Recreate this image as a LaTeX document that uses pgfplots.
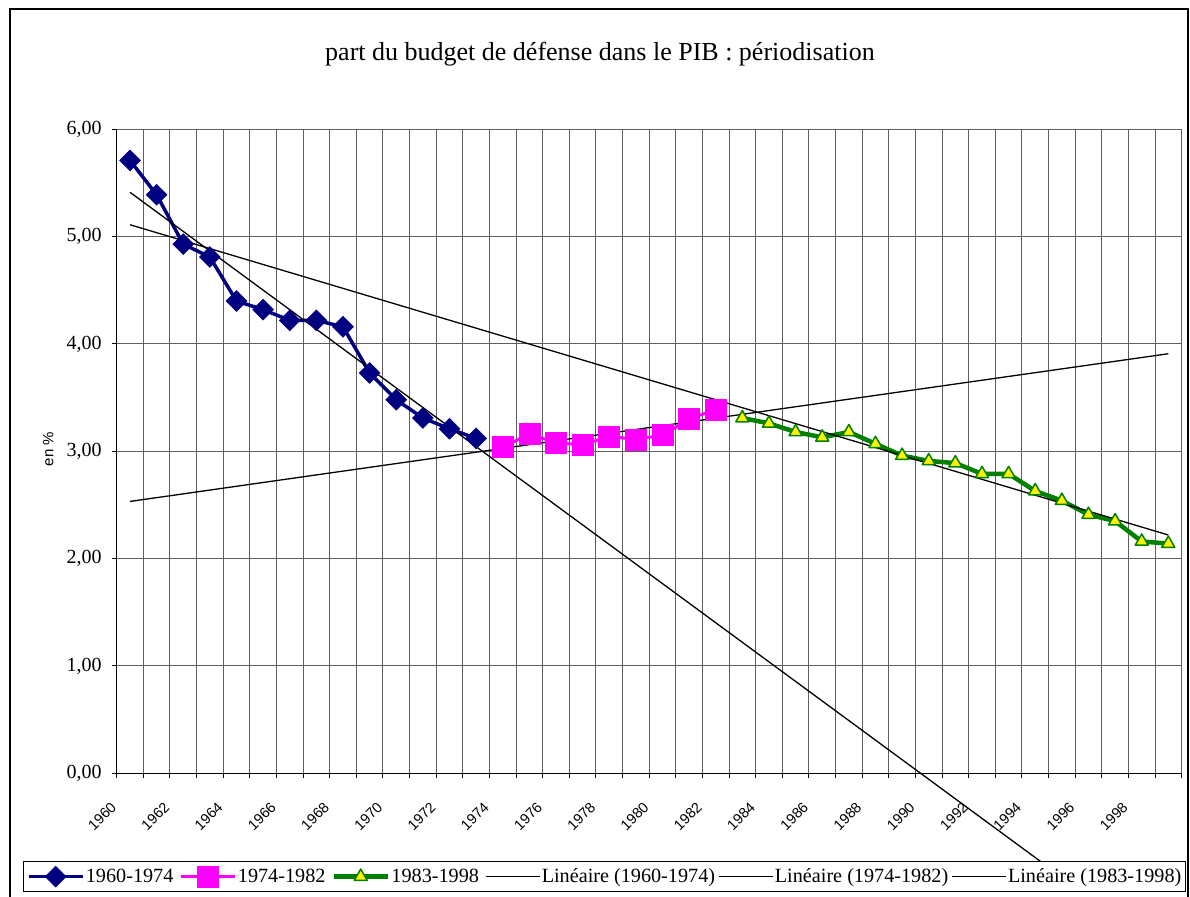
\documentclass[border=0pt]{standalone}
\usepackage{fontspec}
\setmainfont{Liberation Serif}
\setsansfont{Liberation Sans}
\usepackage{pgfplots}
\pgfplotsset{compat=1.18}
\pgfplotsset{layers/mylayers/.define layer set={axis background,axis grid,axis ticks,axis lines,pre main,main,axis tick labels,axis descriptions,axis foreground}{}}
\definecolor{navyb}{RGB}{0,0,128}
\definecolor{magb}{RGB}{255,0,255}
\definecolor{greenb}{RGB}{0,128,0}
\definecolor{gridg}{RGB}{95,95,95}
\begin{document}
\begin{tikzpicture}
\begin{axis}[
  set layers=mylayers,
  at={(116.7pt,122.7pt)}, anchor=south west,
  width=1065pt, height=644pt, scale only axis,
  xmin=-0.5, xmax=39.5, ymin=0, ymax=6,
  clip=false,
  axis x line*=bottom, axis y line*=left,
  axis line style={-, black, line width=1.5pt},
  xtick={-0.5,0.5,...,39.5},
  xticklabels={1960,,1962,,1964,,1966,,1968,,1970,,1972,,1974,,1976,,1978,,1980,,1982,,1984,,1986,,1988,,1990,,1992,,1994,,1996,,1998,},
  xmajorgrids=true, ymajorgrids=true,
  ytick={0,1,2,3,4,5,6},
  yticklabels={{0,00},{1,00},{2,00},{3,00},{4,00},{5,00},{6,00}},
  tick align=outside,
  major tick length=5pt,
  every tick/.append style={black, line width=1pt},
  major grid style={gridg, line width=1pt},
  yticklabel style={font=\fontsize{20}{24}\selectfont, anchor=east, inner sep=0pt, xshift=-10pt},
  xticklabel style={xshift=-2.4pt, yshift=-25.7pt, rotate=45, anchor=east, inner sep=1pt, fill=white, font=\sffamily\fontsize{14.5}{16}\selectfont},
  ylabel={en \%},
  every axis y label/.style={at={(axis description cs:-0.0642,0.5036)}, rotate=90, anchor=center, font=\sffamily\fontsize{15}{17}\selectfont},
  title={part du budget de défense dans le PIB : périodisation},
  title style={at={(axis description cs:0.4538,1.0968)}, anchor=base, font=\fontsize{26}{30}\selectfont},
  legend columns=6,
  legend image code/.code={\draw[mark repeat=2,mark phase=2] plot coordinates {(0pt,0pt) (27pt,0pt) (54pt,0pt)};},
  legend style={at={(axis description cs:-0.0877,-0.1362)}, anchor=north west, draw=black, line width=1.2pt, fill=white,
    font=\fontsize{20.2}{23}\selectfont, inner xsep=3pt, inner ysep=4.5pt,
    nodes={inner sep=1.5pt},
    /tikz/column 2/.style={column sep=4.5pt},
    /tikz/column 4/.style={column sep=4.5pt},
    /tikz/column 6/.style={column sep=4.5pt},
    /tikz/column 8/.style={column sep=1.5pt},
    /tikz/column 10/.style={column sep=1.5pt}},
]
\addplot[color=navyb, line width=3.5pt, mark=square*, mark size=7.4pt, mark options={rotate=45, fill=navyb, line width=0.5pt}] coordinates {
(0,5.71) (1,5.39) (2,4.93) (3,4.81) (4,4.40) (5,4.32) (6,4.22) (7,4.22) (8,4.16) (9,3.73) (10,3.48) (11,3.31) (12,3.21) (13,3.12)};
\addlegendentry{1960-1974}
\addplot[color=magb, line width=3pt, mark=square*, mark size=10.5pt, mark options={fill=magb, line width=0.5pt}] coordinates {
(14,3.04) (15,3.16) (16,3.08) (17,3.06) (18,3.14) (19,3.11) (20,3.15) (21,3.30) (22,3.39)};
\addlegendentry{1974-1982}
\addplot[color=greenb, line width=4.5pt, mark=triangle*, mark size=7.5pt, mark options={fill=yellow, draw=greenb, line width=1.5pt, line join=round}] coordinates {
(23,3.31) (24,3.26) (25,3.18) (26,3.13) (27,3.18) (28,3.07) (29,2.96) (30,2.91) (31,2.89) (32,2.79) (33,2.79) (34,2.63) (35,2.54) (36,2.41) (37,2.35) (38,2.16) (39,2.14)};
\addlegendentry{1983-1998}
\addplot[black, line width=1.3pt] coordinates {(0,5.413) (35,-0.967)};
\addlegendentry{Linéaire (1960-1974)}
\addplot[black, line width=1.3pt] coordinates {(0,2.533) (39,3.909)};
\addlegendentry{Linéaire (1974-1982)}
\addplot[black, line width=1.3pt] coordinates {(0,5.111) (39,2.220)};
\addlegendentry{Linéaire (1983-1998)}
\end{axis}
\draw[line width=1.3pt] (10pt,887pt) rectangle (1188pt,-5pt);
\pgfresetboundingbox
\useasboundingbox (0,0) rectangle (1190pt,896pt);
\end{tikzpicture}
\end{document}
